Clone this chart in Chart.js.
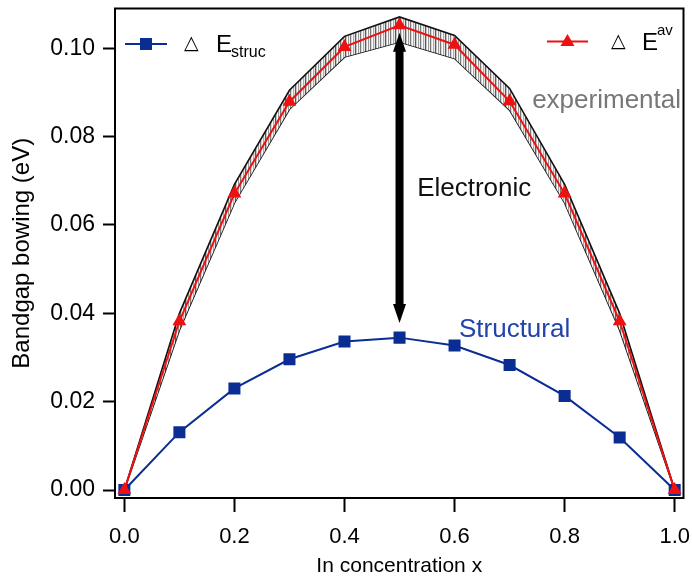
<!DOCTYPE html>
<html>
<head>
<meta charset="utf-8">
<script src="https://cdn.jsdelivr.net/npm/chart.js@4.4.1/dist/chart.umd.min.js"></script>
<style>
  body { margin: 0; background: #fff; }
  #bowing { display: block; }
</style>
</head>
<body>
<canvas id="bowing" width="692" height="577"></canvas>
<script>
// In concentration x
const concentration = [0, 0.1, 0.2, 0.3, 0.4, 0.5, 0.6, 0.7, 0.8, 0.9, 1.0];

// bowing values (eV)
const structural = [0, 0.0131, 0.0230, 0.0296, 0.0336, 0.0345, 0.0327, 0.0283, 0.0213, 0.0119, 0];
const average = [0, 0.0382, 0.0671, 0.0879, 0.1003, 0.1052, 0.1008, 0.0880, 0.0671, 0.0382, 0];
const expUpper = [0, 0.0400, 0.0692, 0.0905, 0.1027, 0.1071, 0.1029, 0.0909, 0.0692, 0.0400, 0];
const expLower = [0, 0.0362, 0.0650, 0.0862, 0.0980, 0.1014, 0.0977, 0.0860, 0.0650, 0.0362, 0];

const xTicks = [0, 0.2, 0.4, 0.6, 0.8, 1.0];
const yTicks = [0, 0.02, 0.04, 0.06, 0.08, 0.10];

// electronic part: arrow between the two curves at x = 0.5
const arrowX = 0.5;
const arrowTop = 0.1035;
const arrowBottom = 0.0378;

const blue = "#0a2d94";
const red = "#ee1111";

const toPoints = (ys) => ys.map((y, i) => ({ x: concentration[i], y: y }));

// vertical hatching for the experimental band
const makeHatch = () => {
  const c = document.createElement("canvas");
  const stripes = ["#777", "#d8d8d8", "#fafafa", "#aaa", "#e6e6e6", "#5a5a5a", "#c4c4c4", "#fff", "#999", "#eee"];
  c.width = stripes.length;
  c.height = 2;
  const g = c.getContext("2d");
  stripes.forEach((col, i) => {
    g.fillStyle = col;
    g.fillRect(i, 0, 1, 2);
  });
  return g.createPattern(c, "repeat");
};

const sansFont = '"Liberation Sans", Arial, sans-serif';
Chart.defaults.font.family = sansFont;
Chart.defaults.color = "#000";

const decorations = {
  id: "decorations",
  afterDatasetsDraw(chart) {
    const { ctx, chartArea, scales } = chart;
    const x = scales.x;
    const y = scales.y;
    ctx.save();

    // double headed arrow
    const ax = x.getPixelForValue(arrowX);
    const top = y.getPixelForValue(arrowTop);
    const bot = y.getPixelForValue(arrowBottom);
    const head = 19;
    ctx.fillStyle = "#000";
    ctx.fillRect(ax - 4, top + head - 2, 8, bot - top - 2 * head + 4);
    ctx.beginPath();
    ctx.moveTo(ax, top);
    ctx.lineTo(ax - 6.5, top + head);
    ctx.lineTo(ax + 6.5, top + head);
    ctx.closePath();
    ctx.fill();
    ctx.beginPath();
    ctx.moveTo(ax, bot);
    ctx.lineTo(ax - 6.5, bot - head);
    ctx.lineTo(ax + 6.5, bot - head);
    ctx.closePath();
    ctx.fill();

    // annotations
    ctx.textBaseline = "alphabetic";
    ctx.textAlign = "left";
    ctx.font = "26px " + sansFont;
    ctx.fillStyle = "#111";
    ctx.fillText("Electronic", x.getPixelForValue(0.532), y.getPixelForValue(0.0665));
    ctx.fillStyle = "#777";
    ctx.fillText("experimental", x.getPixelForValue(0.741), y.getPixelForValue(0.0864));
    ctx.fillStyle = "#2244aa";
    ctx.fillText("Structural", x.getPixelForValue(0.608), y.getPixelForValue(0.0346));

    // legend, left: structural
    ctx.strokeStyle = blue;
    ctx.lineWidth = 2;
    ctx.beginPath();
    ctx.moveTo(125, 44);
    ctx.lineTo(167, 44);
    ctx.stroke();
    ctx.fillStyle = blue;
    ctx.fillRect(140, 38, 12, 12);
    ctx.fillStyle = "#000";
    ctx.font = '19px "DejaVu Sans"';
    ctx.fillText("\u25B3", 184, 49);
    ctx.font = "24px " + sansFont;
    ctx.fillText("E", 216, 52);
    ctx.font = "16px " + sansFont;
    ctx.fillText("struc", 231, 57);

    // legend, right: average
    ctx.strokeStyle = red;
    ctx.beginPath();
    ctx.moveTo(547, 41.5);
    ctx.lineTo(588, 41.5);
    ctx.stroke();
    ctx.fillStyle = red;
    ctx.beginPath();
    ctx.moveTo(567.5, 34);
    ctx.lineTo(560.5, 46);
    ctx.lineTo(574.5, 46);
    ctx.closePath();
    ctx.fill();
    ctx.fillStyle = "#000";
    ctx.font = '19px "DejaVu Sans"';
    ctx.fillText("\u25B3", 611, 47);
    ctx.font = "24px " + sansFont;
    ctx.fillText("E", 642, 50);
    ctx.font = "15px " + sansFont;
    ctx.fillText("av", 657, 35);

    // frame
    ctx.strokeStyle = "#000";
    ctx.lineWidth = 2;
    ctx.strokeRect(chartArea.left, chartArea.top, chartArea.right - chartArea.left, chartArea.bottom - chartArea.top);
    ctx.restore();
  },
};

const bowingChart = new Chart(document.getElementById("bowing"), {
  type: "line",
  data: {
    datasets: [
      {
        label: "E av",
        data: toPoints(average),
        borderColor: red,
        backgroundColor: red,
        borderWidth: 2,
        pointStyle: "triangle",
        pointRadius: 8,
        pointBorderWidth: 0,
        fill: false,
      },
      {
        label: "E struc",
        data: toPoints(structural),
        borderColor: blue,
        backgroundColor: blue,
        borderWidth: 2,
        pointStyle: "rect",
        pointRadius: 8.5,
        pointBorderWidth: 0,
        fill: false,
      },
      {
        label: "experimental",
        data: toPoints(expUpper),
        borderColor: "#111",
        borderWidth: 1.6,
        backgroundColor: makeHatch(),
        pointRadius: 0,
        fill: "+1",
      },
      {
        label: "experimental low",
        data: toPoints(expLower),
        borderColor: "#111",
        borderWidth: 1.6,
        pointRadius: 0,
        fill: false,
      },
    ],
  },
  options: {
    responsive: false,
    animation: false,
    devicePixelRatio: 1,
    layout: { padding: { top: 8, right: 5, left: 0, bottom: 0 } },
    plugins: {
      legend: { display: false },
      tooltip: { enabled: false },
    },
    scales: {
      x: {
        type: "linear",
        min: -0.017,
        max: 1.016,
        afterFit: (scale) => {
          scale.height = 79;
          scale.paddingLeft = 0;
          scale.paddingRight = 0;
        },
        afterBuildTicks: (scale) => { scale.ticks = xTicks.map((v) => ({ value: v })); },
        ticks: {
          font: { size: 22 },
          color: "#000",
          padding: 12,
          maxRotation: 0,
          callback: (v) => v.toFixed(1),
        },
        grid: { drawOnChartArea: false, drawTicks: true, tickLength: 14, tickColor: "#000", tickWidth: 2 },
        border: { display: true, color: "#000", width: 2 },
        title: { display: true, text: "In concentration x", font: { size: 21, lineHeight: 1 }, color: "#000", padding: { top: 0, bottom: 0 } },
      },
      y: {
        type: "linear",
        min: -0.0018,
        max: 0.109,
        afterFit: (scale) => {
          scale.width = 115;
          scale.paddingTop = 0;
          scale.paddingBottom = 0;
        },
        afterBuildTicks: (scale) => { scale.ticks = yTicks.map((v) => ({ value: v })); },
        ticks: {
          font: { size: 23 },
          color: "#000",
          padding: 8,
          callback: (v) => v.toFixed(2),
        },
        grid: { drawOnChartArea: false, drawTicks: true, tickLength: 12, tickColor: "#000", tickWidth: 2 },
        border: { display: true, color: "#000", width: 2 },
        title: { display: true, text: "Bandgap bowing (eV)", font: { size: 24 }, color: "#000", padding: { top: 8, bottom: 0 } },
      },
    },
  },
  plugins: [decorations],
});
</script>
</body>
</html>
